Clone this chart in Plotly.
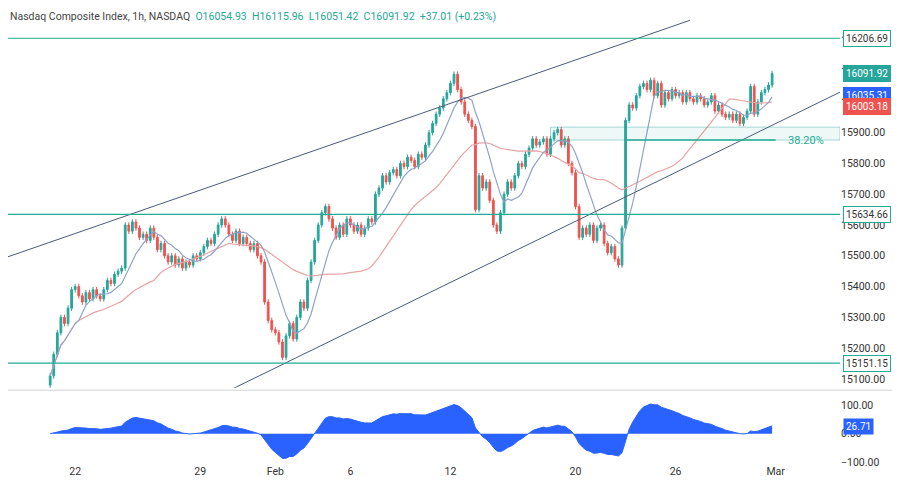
import numpy as np
import pandas as pd
import plotly.graph_objects as go
from plotly.subplots import make_subplots

# hourly closes, 7 bars per trading day, Jan 19 .. Feb 29
closes = [
    15110, 15180, 15250, 15300, 15280, 15330, 15390,
    15400, 15370, 15350, 15380, 15360, 15390, 15370,
    15360, 15390, 15420, 15410, 15440, 15450, 15460,
    15600, 15580, 15610, 15590, 15560, 15570, 15550,
    15590, 15560, 15520, 15540, 15500, 15480, 15500,
    15470, 15490, 15460, 15480, 15470, 15500, 15490,
    15510, 15530, 15550, 15540, 15570, 15600, 15620,
    15600, 15570, 15550, 15580, 15540, 15560, 15540,
    15520, 15540, 15500, 15480, 15350, 15290, 15260,
    15250, 15220, 15170, 15240, 15280, 15230, 15300,
    15350, 15330, 15420, 15480, 15550, 15600, 15640,
    15660, 15620, 15590, 15560, 15600, 15570, 15620,
    15600, 15580, 15600, 15570, 15590, 15620, 15610,
    15700, 15720, 15760, 15740, 15770, 15780, 15760,
    15800, 15790, 15820, 15810, 15790, 15830, 15820,
    15860, 15900, 15930, 15960, 15980, 16010, 16030,
    16060, 16090, 16040, 16000, 15960, 15940, 15920,
    15650, 15760, 15720, 15740, 15680, 15600, 15580,
    15640, 15700, 15740, 15720, 15760, 15800, 15790,
    15830, 15850, 15880, 15860, 15870, 15880, 15830,
    15880, 15900, 15910, 15860, 15880, 15800, 15770,
    15660, 15560, 15590, 15570, 15600, 15550, 15590,
    15600, 15540, 15510, 15530, 15490, 15470, 15590,
    15940, 15990, 15980, 16020, 16050, 16060, 16040,
    16070, 16020, 16060, 15990, 16030, 16010, 16040,
    16020, 16030, 16000, 16030, 16010, 16000, 16020,
    16010, 15990, 16000, 16020, 15970, 15990, 15960,
    15950, 15960, 15940, 15960, 15930, 15950, 15970,
    16050, 15960, 16000, 16030, 16040, 16054.93, 16091.92,
]
first_open = 15080
wick = 9

tick_bars = [7, 42, 63, 84, 112, 147, 175, 203]
tick_text = ["22", "29", "Feb", "6", "12", "20", "26", "Mar"]

levels = [16206.69, 15634.66, 15151.15]
last_fast, last_slow, last_osc = 16035.31, 16003.18, 26.71
fib_top, fib_bottom = 15918, 15876
upper_channel = ([-14, 179], [15488, 16265])
lower_channel = ([50, 223], [15062, 16043])

GREEN, RED, TEAL, BLUE = "#26a69a", "#ef5350", "#22ab94", "#2962ff"

c = pd.Series(closes, dtype=float)
o = c.shift(1).fillna(first_open)
hi = np.maximum(o, c) + wick
lo = np.minimum(o, c) - wick
x = np.arange(len(c))
ma_fast = c.rolling(9, min_periods=1).mean()
ma_slow = c.rolling(30, min_periods=1).mean()
osc = c.ewm(span=8).mean() - c.ewm(span=26).mean()
osc = osc / osc.abs().max() * 105

fig = make_subplots(rows=2, cols=1, shared_xaxes=True, row_heights=[0.845, 0.155],
                    vertical_spacing=0.012)

fig.add_trace(go.Candlestick(x=x, open=o, high=hi, low=lo, close=c,
                             increasing=dict(line=dict(color=GREEN, width=1), fillcolor=GREEN),
                             decreasing=dict(line=dict(color=RED, width=1), fillcolor=RED),
                             whiskerwidth=0, showlegend=False), 1, 1)
fig.add_trace(go.Scatter(x=x, y=ma_slow, mode="lines", line=dict(color="#e8a3a3", width=1.2),
                         showlegend=False), 1, 1)
fig.add_trace(go.Scatter(x=x, y=ma_fast, mode="lines", line=dict(color="#8fa3c8", width=1.2),
                         showlegend=False), 1, 1)
for xs, ys in [upper_channel, lower_channel]:
    fig.add_trace(go.Scatter(x=xs, y=ys, mode="lines", line=dict(color="#4a5a7a", width=1),
                             showlegend=False), 1, 1)
fig.add_trace(go.Scatter(x=x, y=osc, mode="lines", fill="tozeroy", fillcolor=BLUE,
                         line=dict(color=BLUE, width=1), showlegend=False), 2, 1)

for lv in levels:
    fig.add_hline(y=lv, line=dict(color=TEAL, width=1.2), row=1, col=1)
fig.add_shape(type="rect", x0=140, x1=221, y0=fib_bottom, y1=fib_top, xref="x", yref="y",
              fillcolor="rgba(38,166,154,0.08)", line=dict(color="rgba(38,166,154,0.4)", width=1))
fig.add_shape(type="line", x0=161, x1=203, y0=fib_bottom, y1=fib_bottom, xref="x", yref="y",
              line=dict(color=TEAL, width=1.5))
fig.add_annotation(x=206, y=fib_bottom, text="38.20%", showarrow=False, xanchor="left",
                   font=dict(color=TEAL, size=11), xref="x", yref="y")

# right side price labels
tags = [(16206.69, "white", "#333", TEAL, 0), (closes[-1], GREEN, "white", GREEN, 0),
        (last_fast, BLUE, "white", BLUE, -4), (last_slow, RED, "white", RED, -6),
        (15634.66, "white", "#333", TEAL, 0), (15151.15, "white", "#333", TEAL, 0)]
for v, bg, fg, bd, dy in tags:
    fig.add_annotation(x=1.0, y=v, xref="paper", yref="y", text=f"{v:.2f}", showarrow=False,
                       xanchor="left", xshift=3, yshift=dy, bgcolor=bg, bordercolor=bd,
                       borderwidth=1, borderpad=2, font=dict(color=fg, size=10))
fig.add_annotation(x=1.0, y=last_osc, xref="paper", yref="y2", text=f"{last_osc:.2f}",
                   showarrow=False, xanchor="left", xshift=3, bgcolor=BLUE, borderpad=2,
                   font=dict(color="white", size=10))

fig.add_annotation(x=0.0, y=1.0, xref="paper", yref="paper", xanchor="left", yanchor="top",
                   showarrow=False, font=dict(size=10.5, color="#444"),
                   text=("Nasdaq Composite Index, 1h, NASDAQ  "
                         "<span style='color:#26a69a'>O16054.93  H16115.96  L16051.42  "
                         "C16091.92  +37.01 (+0.23%)</span>"))

fig.update_xaxes(range=[-11.8, 221], showgrid=False, zeroline=False,
                 tickvals=tick_bars, ticktext=tick_text, rangeslider_visible=False,
                 tickfont=dict(size=10.5, color="#333"))
fig.update_xaxes(showticklabels=False, row=1, col=1)
fig.update_yaxes(side="right", showgrid=False, zeroline=False, tickformat=".2f",
                 tickfont=dict(size=10.5, color="#333"), ticks="")
fig.update_yaxes(range=[15071, 16305], dtick=100, row=1, col=1)
fig.update_yaxes(range=[-104, 143], tickvals=[100, 0, -100], row=2, col=1)
fig.add_shape(type="line", xref="paper", yref="paper", x0=0, x1=1.1, y0=0.16, y1=0.16,
              line=dict(color="#d0d3da", width=1))

fig.update_layout(width=892, height=475, margin=dict(l=0, r=60, t=0, b=20),
                  plot_bgcolor="white", paper_bgcolor="white",
                  font=dict(family="Roboto"), showlegend=False)

fig.write_html("out.html")
